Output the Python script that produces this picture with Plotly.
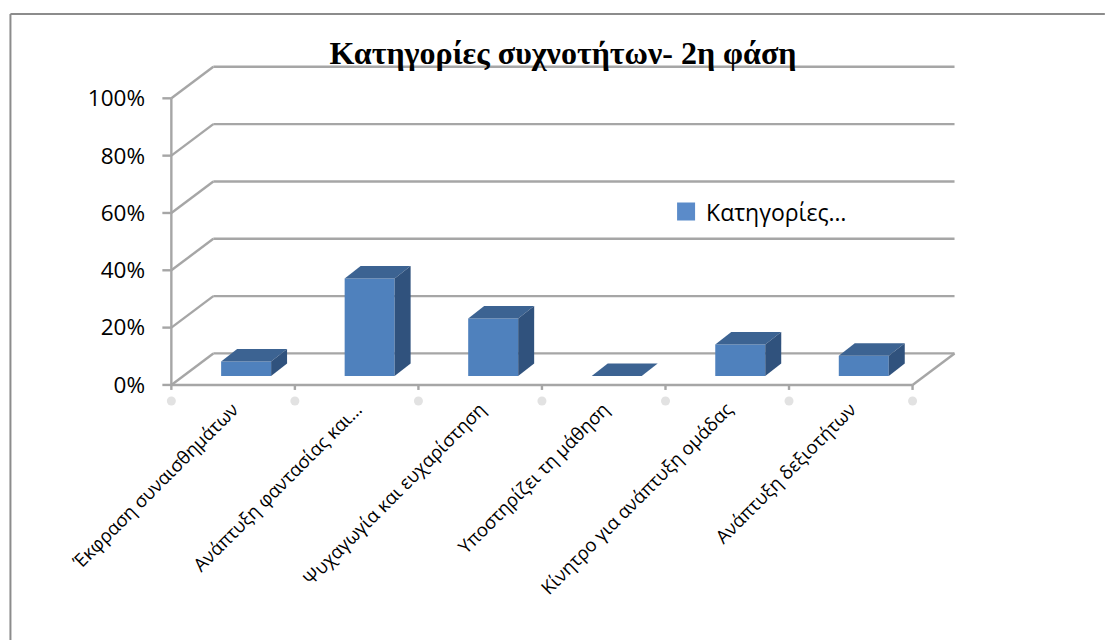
import plotly.graph_objects as go

categories = ["Έκφραση συναισθημάτων", "Ανάπτυξη φαντασίας και…", "Ψυχαγωγία και ευχαρίστηση",
              "Υποστηρίζει τη μάθηση", "Κίνητρο για ανάπτυξη ομάδας", "Ανάπτυξη δεξιοτήτων"]
values = [5, 34, 20, 0, 11, 7]
y_ticks = [0, 20, 40, 60, 80, 100]
series_name = "Κατηγορίες…"
title = "Κατηγορίες συχνοτήτων- 2η φάση"

PX_X = 123.6
PX_Y = 2.865
WALL_DX, WALL_DY = 42 / PX_X, 31.5 / PX_Y
BAR_W = 50 / PX_X
BAR_OFF = 13 / PX_X
BAR_BASE = 9 / PX_Y
BAR_DX, BAR_DY = 16 / PX_X, 12.5 / PX_Y
X0 = -0.5
X1 = len(categories) - 0.5
GRID = "#a6a6a6"
FONT = "Open Sans"

xr = [-0.6, X1 + WALL_DX + 0.02]
yr = [-7, 120]
ml = 171 + (xr[0] - X0) * PX_X
plot_w = (xr[1] - xr[0]) * PX_X
plot_h = (yr[1] - yr[0]) * PX_Y
mt = 384.7 - yr[1] * PX_Y
mb = 640 - mt - plot_h
mr = 1105 - ml - plot_w

def line(x0, y0, x1, y1):
    return dict(type="line", layer="below", xref="x", yref="y", x0=x0, y0=y0, x1=x1, y1=y1,
                line=dict(color=GRID, width=2.4))

shapes = []
for t in y_ticks:
    shapes.append(line(X0, t, X0 + WALL_DX, t + WALL_DY))
    shapes.append(line(X0 + WALL_DX, t + WALL_DY, X1 + WALL_DX, t + WALL_DY))
    shapes.append(line(X0 - 9 / PX_X, t, X0, t))
shapes.append(line(X0, 0, X0, y_ticks[-1]))
shapes.append(line(X0, 0, X1, 0))
shapes.append(line(X1, 0, X1 + WALL_DX, WALL_DY))
for i in range(len(categories) + 1):
    shapes.append(line(X0 + i, 0, X0 + i, -5 / PX_Y))

# outer frame (left and top edges of the picture)
fx = lambda px: (px - ml) / plot_w
fy = lambda py: 1 - (py - mt) / plot_h
frame = dict(color="#8c8c8c", width=2)
shapes.append(dict(type="line", xref="paper", yref="paper", x0=fx(10), x1=fx(10), y0=fy(14), y1=fy(640), line=frame))
shapes.append(dict(type="line", xref="paper", yref="paper", x0=fx(10), x1=fx(1105), y0=fy(14), y1=fy(14), line=frame))

fig = go.Figure()
xs = [i + BAR_OFF for i in range(len(categories))]
fig.add_bar(x=xs, y=values, base=[BAR_BASE] * len(values), width=BAR_W, name=series_name,
            marker=dict(color="#4f81bd", line=dict(width=0)), showlegend=False)

for xc, v in zip(xs, values):
    l, r = xc - BAR_W / 2, xc + BAR_W / 2
    top = BAR_BASE + v
    fig.add_scatter(x=[l, r, r + BAR_DX, l + BAR_DX, l], y=[top, top, top + BAR_DY, top + BAR_DY, top],
                    mode="lines", fill="toself", fillcolor="#3c6392", line=dict(width=0),
                    showlegend=False, hoverinfo="skip")
    if v > 0:
        fig.add_scatter(x=[r, r + BAR_DX, r + BAR_DX, r, r],
                        y=[BAR_BASE, BAR_BASE + BAR_DY, top + BAR_DY, top, BAR_BASE],
                        mode="lines", fill="toself", fillcolor="#30527d", line=dict(width=0),
                        showlegend=False, hoverinfo="skip")

# soft grey dots under the category boundaries
fig.add_scatter(x=[X0 + i for i in range(len(categories) + 1)], y=[-5.6] * (len(categories) + 1),
                mode="markers", marker=dict(color="#e2e2e2", size=9), cliponaxis=False,
                showlegend=False, hoverinfo="skip")

# legend entry
fig.add_scatter(x=[None], y=[None], mode="markers", name=series_name,
                marker=dict(symbol="square", size=16, color="#5b8bc9", line=dict(width=2, color="#5b8bc9")))

fig.update_layout(
    width=1105, height=640, paper_bgcolor="white", plot_bgcolor="white",
    margin=dict(l=ml, r=mr, t=mt, b=mb, autoexpand=False),
    shapes=shapes, font=dict(family=FONT, color="black"),
    title=dict(text=title, x=563 / 1105, xanchor="center", y=1 - 53 / 640, yanchor="middle",
               font=dict(family="Liberation Serif", size=32, color="black", weight="bold")),
    legend=dict(x=fx(666), y=fy(190), xanchor="left", yanchor="top", font=dict(size=23),
                bgcolor="rgba(0,0,0,0)", itemsizing="trace"),
    xaxis=dict(range=xr, tickmode="array", tickvals=list(range(len(categories))), ticktext=categories,
               tickangle=-45, ticks="", showgrid=False, zeroline=False, showline=False,
               ticklabelstandoff=-11, tickfont=dict(size=18.5, color="black")),
    yaxis=dict(range=yr, tickmode="array", tickvals=y_ticks, ticktext=[f"{t}%" for t in y_ticks],
               ticks="", showgrid=False, zeroline=False, showline=False, ticklabelstandoff=13,
               tickfont=dict(size=22.5, color="black")),
)
fig.write_html("out.html", post_script="document.body.style.margin='0';", config={"displayModeBar": False})
